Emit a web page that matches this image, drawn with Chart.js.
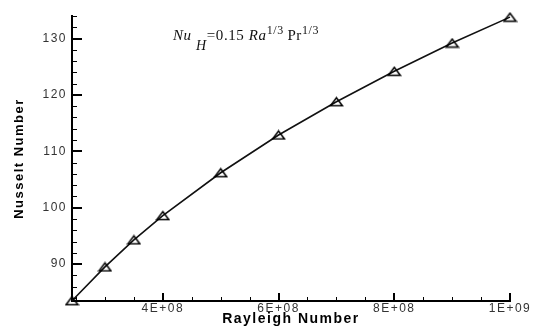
<!DOCTYPE html>
<html>
<head>
<meta charset="utf-8">
<script src="https://cdn.jsdelivr.net/npm/chart.js@4.4.1/dist/chart.umd.min.js"></script>
<style>
  html, body { margin: 0; padding: 0; background: #fff; }
  #wrap { width: 533px; height: 326px; }
</style>
</head>
<body>
<div id="wrap"><canvas id="chart"></canvas></div>
<script>
// values
let rayleigh = [2.43e8, 3e8, 3.5e8, 4e8, 5e8, 6e8, 7e8, 8e8, 9e8, 1e9];
let nusselt = [83.5, 89.5, 94.3, 98.6, 106.2, 112.9, 118.8, 124.2, 129.2, 133.8];

let x_ticks = [4e8, 6e8, 8e8, 1e9];
let x_tick_labels = ["4E+08", "6E+08", "8E+08", "1E+09"];
let y_ticks = [90, 100, 110, 120, 130];

// minor ticks
let x_minor = [];
for (let v = 2.5e8; v <= 1e9; v += 5e7) x_minor.push(v);
let y_minor = [];
for (let v = 84; v <= 134; v += 2) y_minor.push(v);

const SPACING = "1.5px";

// flat open triangle used as the marker
function makeTriangle()
{
  let c = document.createElement("canvas");
  c.width = 15;
  c.height = 11;
  let g = c.getContext("2d");
  g.strokeStyle = "#000";
  g.lineWidth = 1.6;
  g.lineJoin = "miter";
  g.beginPath();
  g.moveTo(1.5, 9.5);
  g.lineTo(13.5, 9.5);
  g.lineTo(7.5, 1.5);
  g.closePath();
  g.stroke();
  return c;
}

// text in the reference looks stretched sideways, so widen letters a bit
let spacingPlugin = {
  id: "spacing",
  beforeUpdate(chart) { chart.ctx.letterSpacing = SPACING; },
  beforeDraw(chart) { chart.ctx.letterSpacing = SPACING; }
};

// inward pointing ticks, drawn from the scales
let ticksPlugin = {
  id: "inTicks",
  afterDraw(chart) {
    let ctx = chart.ctx;
    let xs = chart.scales.x, ys = chart.scales.y;
    let area = chart.chartArea;
    ctx.save();
    ctx.strokeStyle = "#000";

    function tick(x1, y1, x2, y2, w) {
      ctx.lineWidth = w;
      ctx.beginPath();
      ctx.moveTo(x1, y1);
      ctx.lineTo(x2, y2);
      ctx.stroke();
    }

    x_minor.forEach(v => {
      let px = Math.round(xs.getPixelForValue(v)) + 0.5;
      tick(px, area.bottom, px, area.bottom - 4, 1);
    });
    x_ticks.forEach(v => {
      let px = Math.round(xs.getPixelForValue(v));
      tick(px, area.bottom, px, area.bottom - 8, 2);
    });
    y_minor.forEach(v => {
      let py = Math.round(ys.getPixelForValue(v)) + 0.5;
      tick(area.left, py, area.left + 5, py, 1);
    });
    y_ticks.forEach(v => {
      let py = Math.round(ys.getPixelForValue(v));
      tick(area.left, py, area.left + 10, py, 2);
    });
    ctx.restore();
  }
};

// formula label inside the plot
let formulaPlugin = {
  id: "formula",
  afterDraw(chart) {
    let ctx = chart.ctx;
    ctx.save();
    ctx.letterSpacing = "0.6px";
    ctx.fillStyle = "#111";
    ctx.textBaseline = "alphabetic";
    let x = 173, y = 40;
    let parts = [
      { t: "Nu", f: "italic 15px 'Liberation Serif'", dy: 0 },
      { t: " ", f: "15px 'Liberation Serif'", dy: 0 },
      { t: "H", f: "italic 14px 'Liberation Serif'", dy: 10 },
      { t: "=0.15 ", f: "15px 'Liberation Serif'", dy: 0 },
      { t: "Ra", f: "italic 15px 'Liberation Serif'", dy: 0 },
      { t: "1/3 ", f: "12px 'Liberation Serif'", dy: -6 },
      { t: "Pr", f: "15px 'Liberation Serif'", dy: 0 },
      { t: "1/3", f: "12px 'Liberation Serif'", dy: -6 }
    ];
    parts.forEach(p => {
      ctx.font = p.f;
      ctx.fillText(p.t, x, y + p.dy);
      x += ctx.measureText(p.t).width;
    });
    ctx.restore();
  }
};

new Chart(document.getElementById("chart"), {
  type: "line",
  data: {
    datasets: [{
      data: rayleigh.map((r, i) => ({ x: r, y: nusselt[i] })),
      borderColor: "#111",
      borderWidth: 1.6,
      pointStyle: makeTriangle(),
      pointRadius: 6,
      tension: 0,
      clip: false
    }]
  },
  options: {
    responsive: true,
    maintainAspectRatio: false,
    animation: false,
    events: [],
    layout: { padding: { top: 16, right: 23, left: 0, bottom: 0 } },
    plugins: {
      legend: { display: false },
      tooltip: { enabled: false }
    },
    scales: {
      x: {
        type: "linear",
        min: 2.43e8,
        max: 1e9,
        afterBuildTicks: s => { s.ticks = x_ticks.map(v => ({ value: v })); },
        afterFit: s => { s.height = 25; },
        grid: { display: true, drawOnChartArea: false, drawTicks: false },
        border: { display: true, color: "#000", width: 2 },
        ticks: {
          padding: 0,
          color: "#333",
          font: { family: "'Liberation Sans'", size: 12 },
          maxRotation: 0,
          autoSkip: false,
          callback: v => x_tick_labels[x_ticks.indexOf(v)]
        },
        title: {
          display: true,
          text: "Rayleigh Number",
          color: "#000",
          padding: { top: 0, bottom: 0 },
          font: { family: "'Liberation Sans'", size: 14, weight: "bold", lineHeight: 1 }
        }
      },
      y: {
        min: 83.45,
        max: 134,
        afterBuildTicks: s => { s.ticks = y_ticks.map(v => ({ value: v })); },
        afterFit: s => { s.width = 72; },
        grid: { display: true, drawOnChartArea: false, drawTicks: false },
        border: { display: true, color: "#000", width: 2 },
        ticks: {
          padding: 5,
          color: "#333",
          font: { family: "'Liberation Sans'", size: 12 },
          autoSkip: false
        },
        title: {
          display: true,
          text: "Nusselt Number",
          color: "#000",
          padding: { top: 12, bottom: 0 },
          font: { family: "'Liberation Sans'", size: 13, weight: "bold" }
        }
      }
    }
  },
  plugins: [spacingPlugin, ticksPlugin, formulaPlugin]
});
</script>
</body>
</html>
